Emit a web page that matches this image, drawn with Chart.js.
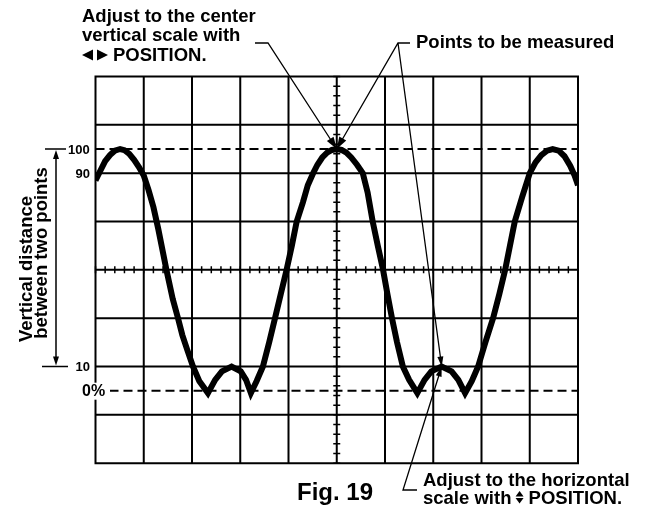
<!DOCTYPE html>
<html><head><meta charset="utf-8">
<script src="https://cdn.jsdelivr.net/npm/chart.js@4/dist/chart.umd.min.js"></script>
<style>html,body{margin:0;padding:0;background:#fff;}canvas{display:block}</style>
</head><body>
<canvas id="c" width="645" height="508"></canvas>
<script>
// ---- data (x in screen divisions, y in % of amplitude) ----
const divisionsX = [0,1,2,3,4,5,6,7,8,9,10];
const gridLevels = [-30,-10,10,30,50,70,90,110,130];
const referenceLevels = [0,100];
const traceX = [0,0.1,0.2,0.3,0.4,0.51,0.6,0.7,0.8,0.9,1.0,1.1,1.2,1.3,1.4,1.47,1.6,1.71,1.8,1.9,2.02,2.15,2.33,2.48,2.62,2.82,3.01,3.12,3.22,3.34,3.47,3.6,3.72,3.84,3.96,4.07,4.17,4.3,4.4,4.51,4.6,4.7,4.8,4.9,5.0,5.1,5.2,5.3,5.42,5.54,5.64,5.745,5.85,5.96,6.05,6.145,6.25,6.37,6.5,6.67,6.82,6.96,7.175,7.38,7.52,7.66,7.8,7.93,8.08,8.24,8.37,8.49,8.59,8.69,8.84,9.0,9.12,9.24,9.36,9.475,9.6,9.72,9.84,9.93,10.0];
const traceY = [87,91,95,97.5,99.3,100,99.5,98,95.5,92.5,89,83,76,67,57,50,38,30,23,17,10,4,-1,4.5,8,10,8,4.5,-1,4,10,20,30,40,50,60,70,78,85,90,93.5,96.5,98.5,99.6,100,99.6,98.5,96.5,93.5,90,82,70,60,50,40,30,20,10,4.5,-1,4.5,8,10,8,4.5,-1,4,10,20,30,40,50,60,70,80,90,94.5,97.5,99.3,100,99.3,97,93,89,85];
const levelLabels = ["100","90","10"];
const levelValues = [100,90,10];
const zeroLabel = "0%";
const measuredX = [5.0, 7.175];
const measuredY = [100, 10];

const FONT = '"Liberation Sans", Arial, Helvetica, sans-serif';

function arrowHead(ctx, x1, y1, x2, y2, len, hw){
  const a = Math.atan2(y2-y1, x2-x1);
  ctx.beginPath();
  ctx.moveTo(x2, y2);
  ctx.lineTo(x2 - len*Math.cos(a) + hw*Math.sin(a), y2 - len*Math.sin(a) - hw*Math.cos(a));
  ctx.lineTo(x2 - len*Math.cos(a) - hw*Math.sin(a), y2 - len*Math.sin(a) + hw*Math.cos(a));
  ctx.closePath();
  ctx.fill();
}

const scopeGrid = {
  id: 'scopeGrid',
  beforeDatasetsDraw(chart){
    const {ctx, scales:{x, y}} = chart;
    const L = x.getPixelForValue(0), R = x.getPixelForValue(10);
    const T = y.getPixelForValue(130), B = y.getPixelForValue(-30);
    ctx.save();
    ctx.strokeStyle = '#000';
    ctx.lineWidth = 2;
    ctx.beginPath();
    divisionsX.forEach(v => { const px = x.getPixelForValue(v); ctx.moveTo(px, T-1); ctx.lineTo(px, B+1); });
    gridLevels.forEach(v => { const py = y.getPixelForValue(v); ctx.moveTo(L-1, py); ctx.lineTo(R+1, py); });
    ctx.stroke();
    // minor ticks on centre axes
    const cx = x.getPixelForValue(5), cy = y.getPixelForValue(50);
    ctx.lineWidth = 1.5;
    ctx.beginPath();
    for (let v = -30; v <= 130.001; v += 4) { const py = y.getPixelForValue(v); ctx.moveTo(cx-3.5, py); ctx.lineTo(cx+3.5, py); }
    for (let v = 0; v <= 10.001; v += 0.2) { const px = x.getPixelForValue(v); ctx.moveTo(px, cy-3.5); ctx.lineTo(px, cy+3.5); }
    ctx.stroke();
    // dashed reference lines 0% and 100%
    ctx.lineWidth = 2;
    ctx.setLineDash([9,5]);
    ctx.beginPath();
    referenceLevels.forEach(v => { const py = y.getPixelForValue(v); ctx.moveTo(L, py); ctx.lineTo(R, py); });
    ctx.stroke();
    ctx.restore();
  }
};

const annotations = {
  id: 'annotations',
  afterDatasetsDraw(chart){
    const {ctx, scales:{x, y}} = chart;
    const L = x.getPixelForValue(0);
    ctx.save();
    ctx.fillStyle = '#000';
    ctx.strokeStyle = '#000';
    // level labels
    ctx.font = 'bold 13px ' + FONT;
    ctx.textBaseline = 'middle';
    ctx.textAlign = 'left';
    ctx.fillText(levelLabels[0], 68, y.getPixelForValue(levelValues[0]) + 1);
    ctx.textAlign = 'right';
    ctx.fillText(levelLabels[1], 90, y.getPixelForValue(levelValues[1]) + 1);
    ctx.fillText(levelLabels[2], 90, y.getPixelForValue(levelValues[2]) + 1);
    // 0% label over the border
    const y0 = y.getPixelForValue(0);
    ctx.fillStyle = '#fff';
    ctx.fillRect(80, y0 - 8, 30, 17);
    ctx.fillStyle = '#000';
    ctx.font = 'bold 16px ' + FONT;
    ctx.textAlign = 'left';
    ctx.fillText(zeroLabel, 82, y0 + 1);

    // dimension line
    const yTop = y.getPixelForValue(levelValues[0]), yBot = y.getPixelForValue(levelValues[2]);
    ctx.lineWidth = 1.5;
    ctx.beginPath();
    ctx.moveTo(45, yTop); ctx.lineTo(66, yTop);
    ctx.moveTo(42, yBot); ctx.lineTo(68, yBot);
    ctx.moveTo(56, yTop + 6); ctx.lineTo(56, yBot - 6);
    ctx.stroke();
    arrowHead(ctx, 56, yTop + 20, 56, yTop + 1, 9, 3);
    arrowHead(ctx, 56, yBot - 20, 56, yBot - 1, 9, 3);

    // rotated label
    ctx.font = 'bold 18.5px ' + FONT;
    ctx.textAlign = 'center';
    ctx.textBaseline = 'alphabetic';
    ctx.save(); ctx.translate(31.5, 269); ctx.rotate(-Math.PI/2); ctx.fillText('Vertical distance', 0, 0); ctx.restore();
    ctx.save(); ctx.translate(46.5, 253); ctx.rotate(-Math.PI/2); ctx.fillText('between two points', 0, 0); ctx.restore();

    // top-left note
    ctx.textAlign = 'left';
    ctx.fillText('Adjust to the center', 82, 22);
    ctx.fillText('vertical scale with', 82, 41);
    ctx.beginPath(); ctx.moveTo(82,55); ctx.lineTo(93,49.5); ctx.lineTo(93,60.5); ctx.closePath(); ctx.fill();
    ctx.beginPath(); ctx.moveTo(97,49.5); ctx.lineTo(108,55); ctx.lineTo(97,60.5); ctx.closePath(); ctx.fill();
    ctx.fillText('POSITION.', 113, 61);

    // top-right note
    ctx.fillText('Points to be measured', 416, 48);

    // bottom notes
    const bx = 423;
    ctx.fillText('Adjust to the horizontal', bx, 486);
    const s1 = 'scale with ';
    ctx.fillText(s1, bx, 504);
    const ax = bx + ctx.measureText(s1).width + 3;
    ctx.beginPath(); ctx.moveTo(ax, 491); ctx.lineTo(ax+4, 496.5); ctx.lineTo(ax-4, 496.5); ctx.closePath(); ctx.fill();
    ctx.beginPath(); ctx.moveTo(ax-4, 498); ctx.lineTo(ax+4, 498); ctx.lineTo(ax, 503.5); ctx.closePath(); ctx.fill();
    ctx.fillText('POSITION.', ax + 9, 504);

    // figure caption
    ctx.font = 'bold 24px ' + FONT;
    ctx.fillText('Fig. 19', 297, 500);

    // leader lines to measured points
    const px1 = x.getPixelForValue(measuredX[0]), py1 = y.getPixelForValue(measuredY[0]);
    const px2 = x.getPixelForValue(measuredX[1]), py2 = y.getPixelForValue(measuredY[1]);
    ctx.lineWidth = 1.3;
    ctx.beginPath();
    ctx.moveTo(255, 43); ctx.lineTo(268, 43); ctx.lineTo(px1, py1);
    ctx.moveTo(410, 43); ctx.lineTo(398, 43); ctx.lineTo(px1, py1);
    ctx.moveTo(398, 43); ctx.lineTo(px2, py2);
    ctx.moveTo(417, 490); ctx.lineTo(403, 490); ctx.lineTo(px2, py2);
    ctx.stroke();
    arrowHead(ctx, 268, 43, px1, py1, 12, 4);
    arrowHead(ctx, 398, 43, px1, py1, 12, 4);
    arrowHead(ctx, 398, 43, px2, py2, 10, 3);
    arrowHead(ctx, 403, 490, px2, py2, 10, 3);
    ctx.restore();
  }
};

new Chart(document.getElementById('c'), {
  type: 'scatter',
  data: {
    datasets: [{
      data: traceX.map((v, i) => ({x: v, y: traceY[i]})),
      showLine: true,
      borderColor: '#000',
      backgroundColor: '#000',
      borderWidth: 6,
      pointRadius: 0,
      tension: 0,
      borderJoinStyle: 'miter',
      borderCapStyle: 'butt',
      fill: false
    }]
  },
  options: {
    responsive: false,
    animation: false,
    devicePixelRatio: 1,
    events: [],
    layout: { padding: { left: 95.5, right: 67, top: 76.5, bottom: 44.8 } },
    plugins: { legend: { display: false }, tooltip: { enabled: false } },
    scales: {
      x: { type: 'linear', min: 0, max: 10, display: false },
      y: { type: 'linear', min: -30, max: 130, display: false }
    }
  },
  plugins: [scopeGrid, annotations]
});
</script>
</body></html>
